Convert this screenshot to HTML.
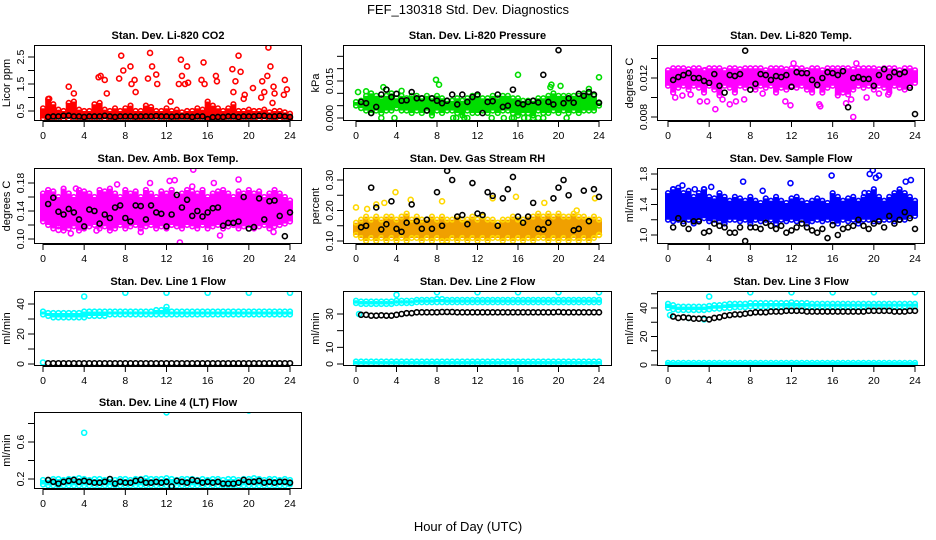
<!DOCTYPE html>
<html><head><meta charset="utf-8">
<style>
body{margin:0;background:#fff;}
svg{display:block;font-family:"Liberation Sans",Arial,sans-serif;}
.t{font-size:11px;font-weight:bold;text-anchor:middle;}
.tk{font-size:10.5px;text-anchor:middle;}
</style></head>
<body>
<svg id="chart" width="936" height="540" viewBox="0 0 936 540">
<text x="468" y="14" text-anchor="middle" font-size="13">FEF_130318  Std. Dev. Diagnostics</text>
<text x="468" y="531" text-anchor="middle" font-size="13">Hour of Day (UTC)</text>
</svg>
<script>
// ---------- data (band envelopes every 0.5 h from 0 to 24; black every 0.5 h from 0.5 to 24) ----------
const xTicks=[0,4,8,12,16,20,24];
// CO2
const co2Hi=[0.6,0.95,0.75,0.55,0.5,0.8,0.85,0.55,0.5,0.5,0.75,0.8,0.55,0.5,0.6,0.5,0.6,0.7,0.5,0.5,0.7,0.65,0.5,0.5,0.6,0.5,0.55,0.45,0.5,0.5,0.6,0.55,0.85,0.7,0.6,0.5,0.6,0.75,0.5,0.5,0.55,0.5,0.5,0.55,0.45,0.5,0.5,0.45,0.4];
const co2Lo=[0.22,0.2,0.22,0.2,0.2,0.21,0.2,0.22,0.2,0.2,0.21,0.2,0.2,0.22,0.2,0.2,0.21,0.2,0.2,0.22,0.2,0.2,0.21,0.2,0.2,0.2,0.22,0.2,0.2,0.21,0.2,0.2,0.15,0.2,0.21,0.2,0.2,0.2,0.22,0.2,0.2,0.21,0.2,0.2,0.2,0.22,0.2,0.2,0.2];
const co2OutX=[0.6,2.5,3,5.4,5.6,6,6.2,7.4,7.6,7.8,8.5,8.6,8.9,9,10.2,10.4,10.6,11,11.1,12.4,13.2,13.4,13.5,13.8,14,14.1,15.4,15.6,15.7,16.8,16.9,18.4,18.5,18.7,19,19.2,19.5,19.6,20.4,21.2,21.3,21.5,21.8,21.9,22.1,22.3,22.4,22.5,23.4,23.5,23.7];
const co2OutY=[0.95,1.4,1.15,1.75,1.8,1.65,1.15,1.7,2.55,2.0,2.15,1.5,1.65,1.2,1.7,2.65,2.15,1.85,1.5,0.85,1.5,2.4,1.8,1.5,2.15,1.55,1.65,2.3,1.5,1.8,1.6,2.05,1.2,1.6,2.55,1.95,0.95,1.1,1.35,1.0,1.6,1.2,1.8,2.85,2.15,0.8,1.4,1.15,1.1,1.65,1.3];
const co2Blk=[0.28,0.3,0.3,0.32,0.33,0.3,0.3,0.28,0.3,0.3,0.3,0.32,0.3,0.28,0.3,0.3,0.3,0.29,0.3,0.3,0.3,0.31,0.3,0.3,0.29,0.3,0.3,0.3,0.28,0.3,0.3,0.2,0.27,0.28,0.28,0.3,0.3,0.28,0.3,0.3,0.3,0.32,0.32,0.3,0.3,0.32,0.3,0.28];
// Pressure
const prHi=[0.0065,0.007,0.009,0.010,0.009,0.008,0.009,0.010,0.008,0.009,0.008,0.009,0.009,0.008,0.009,0.008,0.009,0.008,0.007,0.007,0.008,0.007,0.008,0.009,0.009,0.008,0.008,0.009,0.008,0.009,0.009,0.008,0.008,0.007,0.007,0.007,0.008,0.008,0.009,0.010,0.009,0.009,0.009,0.009,0.009,0.010,0.010,0.009,0.006];
const prLo=[0.005,0.004,0.003,0.002,0.003,0.002,0.003,0.003,0.004,0.003,0.003,0.002,0.003,0.002,0.003,0.001,0.003,0.002,0.003,0.003,0.002,0.001,0.003,0.002,0.002,0.003,0.002,0.003,0.002,0.003,0.003,0.002,0.001,0.002,0.002,0.001,0.003,0.002,0.002,0.003,0.002,0.003,0.002,0.003,0.002,0.003,0.003,0.003,0.005];
const prOutX=[0.2,1,2.5,2.7,3,3.8,4.5,7.9,8.2,9.6,9.9,10.7,11,13.4,14.6,15.4,15.6,16,16.6,17,17.5,18,18.5,19.2,19.3,20.2,20.8,23,24];
const prOutY=[0.0105,0.0108,0.0,0.0125,0.0115,0.0,0.011,0.0155,0.0135,0.0,0.0,0.0,0.0,0.0,0.0,0.0,0.0,0.0175,0.0,0.0,0.0,0.0,0.0,0.0125,0.0135,0.013,0.0,0.0118,0.0165];
const prBlk=[0.0065,0.006,0.002,0.0045,0.0095,0.0115,0.0085,0.0098,0.007,0.0072,0.0105,0.008,0.008,0.003,0.008,0.007,0.006,0.007,0.0095,0.0055,0.0095,0.0065,0.0085,0.0095,0.002,0.0065,0.0068,0.0095,0.0045,0.005,0.0115,0.006,0.0055,0.0065,0.007,0.0063,0.0175,0.0065,0.0055,0.0275,0.006,0.008,0.0062,0.0098,0.009,0.0105,0.0095,0.0062];
// Li-820 temp
const ltHi=[0.0128,0.013,0.013,0.013,0.0129,0.013,0.013,0.0128,0.013,0.013,0.013,0.0128,0.013,0.013,0.0129,0.013,0.013,0.013,0.013,0.0128,0.013,0.013,0.013,0.0129,0.013,0.013,0.013,0.0128,0.013,0.013,0.0128,0.013,0.013,0.013,0.013,0.013,0.0129,0.013,0.013,0.013,0.013,0.0129,0.013,0.013,0.013,0.0128,0.013,0.013,0.0128];
const ltLo=[0.0112,0.0105,0.011,0.0112,0.0108,0.0112,0.011,0.0105,0.0112,0.0108,0.0102,0.0112,0.011,0.0105,0.0112,0.011,0.0112,0.0108,0.0112,0.011,0.0112,0.0105,0.011,0.0108,0.0112,0.011,0.0112,0.0108,0.0105,0.0112,0.0105,0.011,0.0112,0.0102,0.0105,0.0103,0.0108,0.0112,0.011,0.0112,0.0108,0.0112,0.011,0.0105,0.0112,0.011,0.0108,0.0112,0.0115];
const ltOutX=[0.7,1.4,2.2,3.1,3.8,4.6,5.3,6,6.6,7.4,9.2,11.4,11.9,14.8,14.7,17.3,17.8,18,18.3,19.3,20.5,21.4,12.2,3.6];
const ltOutY=[0.0100,0.0102,0.0103,0.0096,0.0096,0.0088,0.0098,0.0093,0.0096,0.0098,0.0104,0.0096,0.0092,0.0091,0.0093,0.0094,0.0098,0.0080,0.0135,0.0100,0.0104,0.0103,0.0135,0.0128];
const ltBlk=[0.0118,0.0121,0.0123,0.0125,0.0120,0.0120,0.0117,0.0115,0.0124,0.0112,0.0105,0.0123,0.0122,0.0124,0.0148,0.0108,0.0114,0.0124,0.0123,0.0118,0.0122,0.0121,0.0123,0.0111,0.0126,0.0125,0.0125,0.0118,0.0113,0.0120,0.0126,0.0125,0.0123,0.0127,0.0090,0.0120,0.0121,0.0119,0.0119,0.0112,0.0123,0.0129,0.0121,0.0126,0.0124,0.0126,0.0110,0.0083];
// Amb box temp
const abHi=[0.165,0.17,0.168,0.16,0.172,0.165,0.16,0.17,0.168,0.165,0.16,0.17,0.168,0.172,0.165,0.16,0.17,0.165,0.168,0.16,0.17,0.165,0.16,0.168,0.165,0.17,0.16,0.165,0.17,0.168,0.165,0.17,0.16,0.165,0.168,0.17,0.165,0.16,0.168,0.165,0.17,0.165,0.168,0.16,0.165,0.17,0.165,0.16,0.155];
const abLo=[0.125,0.12,0.115,0.118,0.112,0.115,0.118,0.112,0.115,0.118,0.12,0.115,0.118,0.112,0.115,0.12,0.115,0.118,0.12,0.115,0.118,0.12,0.115,0.118,0.115,0.12,0.118,0.115,0.12,0.118,0.115,0.12,0.115,0.118,0.12,0.115,0.118,0.12,0.115,0.118,0.12,0.115,0.118,0.12,0.115,0.118,0.12,0.122,0.125];
const abOutX=[0.4,1.5,2.7,3.2,7.2,10.4,12.3,12.8,13.3,14.6,14.5,16.6,17.2,19.0,22.4,23.1,9.5,5.2];
const abOutY=[0.165,0.113,0.108,0.172,0.178,0.18,0.183,0.184,0.095,0.199,0.175,0.18,0.105,0.185,0.11,0.155,0.11,0.112];
const abBlk=[0.150,0.159,0.139,0.135,0.143,0.138,0.128,0.118,0.142,0.140,0.122,0.135,0.130,0.145,0.148,0.130,0.125,0.148,0.147,0.128,0.148,0.138,0.136,0.118,0.135,0.163,0.145,0.156,0.133,0.140,0.132,0.138,0.144,0.145,0.119,0.123,0.123,0.125,0.160,0.115,0.117,0.158,0.128,0.154,0.155,0.133,0.104,0.138];
// Gas stream RH
const rhHi=[0.16,0.17,0.18,0.17,0.18,0.17,0.18,0.18,0.17,0.18,0.19,0.17,0.18,0.17,0.17,0.18,0.17,0.18,0.17,0.17,0.18,0.17,0.17,0.18,0.17,0.18,0.17,0.17,0.16,0.17,0.17,0.18,0.17,0.17,0.18,0.18,0.19,0.18,0.19,0.18,0.19,0.18,0.18,0.19,0.18,0.18,0.17,0.18,0.17];
const rhLo=[0.12,0.11,0.1,0.11,0.1,0.11,0.1,0.11,0.1,0.11,0.1,0.11,0.11,0.1,0.11,0.1,0.11,0.1,0.1,0.11,0.1,0.11,0.1,0.11,0.1,0.11,0.1,0.11,0.11,0.1,0.11,0.1,0.11,0.1,0.11,0.1,0.11,0.11,0.1,0.11,0.1,0.11,0.1,0.11,0.1,0.11,0.1,0.11,0.12];
const rhOutX=[0,1.1,2,2.8,3.9,5.4,8.5,13.5,15.8,18.6,21.8,23.6,24];
const rhOutY=[0.21,0.205,0.22,0.225,0.26,0.235,0.23,0.24,0.245,0.225,0.2,0.24,0.12];
const rhBlk=[0.145,0.15,0.275,0.21,0.138,0.155,0.23,0.14,0.13,0.16,0.22,0.165,0.14,0.17,0.14,0.26,0.15,0.33,0.30,0.18,0.185,0.155,0.29,0.19,0.185,0.26,0.248,0.15,0.24,0.27,0.31,0.18,0.16,0.18,0.225,0.14,0.138,0.16,0.24,0.275,0.30,0.25,0.135,0.14,0.265,0.165,0.27,0.245];
// Sample flow
const sfHi=[1.55,1.6,1.62,1.55,1.58,1.5,1.55,1.6,1.5,1.48,1.55,1.5,1.45,1.5,1.48,1.45,1.5,1.45,1.42,1.48,1.45,1.5,1.45,1.42,1.48,1.5,1.45,1.42,1.45,1.48,1.45,1.42,1.55,1.5,1.45,1.48,1.5,1.45,1.5,1.55,1.6,1.5,1.45,1.5,1.55,1.6,1.55,1.5,1.45];
const sfLo=[1.2,1.18,1.2,1.18,1.2,1.15,1.2,1.22,1.18,1.2,1.18,1.15,1.2,1.2,1.18,1.2,1.15,1.2,1.18,1.2,1.2,1.15,1.2,1.18,1.2,1.18,1.2,1.15,1.18,1.2,1.18,1.2,1.18,1.15,1.2,1.18,1.2,1.15,1.2,1.2,1.18,1.2,1.2,1.2,1.18,1.2,1.2,1.25,1.25];
const sfOutX=[0.5,1.4,2.6,3.5,4.2,7.3,9.2,11.9,15.9,19.1,19.6,19.9,20.2,20.5,23.1,23.6];
const sfOutY=[1.6,1.65,1.6,1.6,1.63,1.7,1.58,1.68,1.78,1.55,1.8,1.85,1.75,1.78,1.7,1.72];
const sfBlk=[1.1,1.22,1.15,1.08,1.18,1.18,1.03,1.05,1.15,1.12,1.1,1.03,1.03,1.1,0.92,1.1,1.1,1.08,1.16,1.12,1.08,1.12,1.03,1.06,1.1,1.15,1.1,1.06,1.03,1.08,0.96,1.13,1.0,1.08,1.1,1.12,1.2,1.12,1.08,1.15,1.18,1.1,1.25,1.15,1.2,1.3,1.22,1.08];
// Line 1 flow
const l1Hi=[35,34,34,34,34,34,34,34,35,35,35,35,35,35,35,35,35,35,35,35,35,35,36,36,36,35,35,35,35,35,35,35,35,35,35,35,35,35,35,35,35,35,35,35,35,35,35,35,35];
const l1Lo=[33,32,31,31,31,31,31,31,31,32,32,32,32,33,33,33,33,33,33,33,33,33,33,33,33,33,33,33,33,33,33,33,33,33,33,33,33,33,33,33,33,33,33,33,33,33,33,33,33];
const l1OutX=[4,8,12,16,20,24,12,0];
const l1OutY=[45,47.5,47.5,47.5,47.5,47.5,38,1];
const l1Blk=[0.5,0.5,0.5,0.5,0.5,0.5,0.5,0.5,0.5,0.5,0.5,0.5,0.5,0.5,0.5,0.5,0.5,0.5,0.5,0.5,0.5,0.5,0.5,0.5,0.5,0.5,0.5,0.5,0.5,0.5,0.5,0.5,0.5,0.5,0.5,0.5,0.5,0.5,0.5,0.5,0.5,0.5,0.5,0.5,0.5,0.5,0.5,0.5];
// Line 2 flow
const l2Hi=[38,37.5,37.5,37.5,37.5,37.5,37.5,37.5,38,38,38,38,38.5,38.5,38.5,38.5,39,39,38.5,38.5,38.5,38.5,38.5,38.5,38.5,38.5,38.5,38.5,38.5,38.5,38.5,38.5,38.5,38.5,38.5,38.5,38.5,38.5,38.5,38.5,38.5,38.5,38.5,38.5,38.5,38.5,38.5,38.5,38.5];
const l2Lo=[36.5,36,36,36,36,36,36,36,36.5,36.5,36.5,36.5,37,37,37,37,37,37,37,37,37,37,37,37,37,37,37,37,37,37,37,37,37,37,37,37,37,37,37,37,37,37,37,37,37,37,37,37,37];
const l2ZHi=[1.5,1.5,1.5,1.5,1.5,1.5,1.5,1.5,1.5,1.5,1.5,1.5,1.5,1.5,1.5,1.5,1.5,1.5,1.5,1.5,1.5,1.5,1.5,1.5,1.5,1.5,1.5,1.5,1.5,1.5,1.5,1.5,1.5,1.5,1.5,1.5,1.5,1.5,1.5,1.5,1.5,1.5,1.5,1.5,1.5,1.5,1.5,1.5,1.5];
const l2ZLo=[0,0,0,0,0,0,0,0,0,0,0,0,0,0,0,0,0,0,0,0,0,0,0,0,0,0,0,0,0,0,0,0,0,0,0,0,0,0,0,0,0,0,0,0,0,0,0,0,0];
const l2OutX=[4,8,12,16,20,24,0.3];
const l2OutY=[41.5,43,43,43,43,43,30];
const l2Blk=[29.5,29.5,29,29,29.2,29,29,29.5,30,30.5,30.5,31,31,31,31,31,31.2,31.2,31.2,31,31,31,31,31,31,31,31,31,31,31,31,31,31,31,31,31,31,31,31,31.2,31,31,31,31,31,31,31,31];
// Line 3 flow
const l3Hi=[43,42,41,41,41,41,41,41,41.5,42,42,42.5,43,43,43,43,43.5,43.5,43.5,43.5,43.5,43.5,43.5,43.5,44,43.5,43.5,43.5,43,43,43,43,43,43,43,43,43,43,43,43,43,43,43,43,43,43,43,43,43];
const l3Lo=[40,39,38.5,38.5,38.5,38.5,38.5,38.5,39,39.5,39.5,40,40,40.5,40.5,40.5,41,41,41,41,41,41,41,41,41,41,41,41,41,41,41,41,41,41,41,41,41,41,41,41,41,41,41,41,41,41,41,41,41];
const l3ZHi=[1.5,1.5,1.5,1.5,1.5,1.5,1.5,1.5,1.5,1.5,1.5,1.5,1.5,1.5,1.5,1.5,1.5,1.5,1.5,1.5,1.5,1.5,1.5,1.5,1.5,1.5,1.5,1.5,1.5,1.5,1.5,1.5,1.5,1.5,1.5,1.5,1.5,1.5,1.5,1.5,1.5,1.5,1.5,1.5,1.5,1.5,1.5,1.5,1.5];
const l3ZLo=[0,0,0,0,0,0,0,0,0,0,0,0,0,0,0,0,0,0,0,0,0,0,0,0,0,0,0,0,0,0,0,0,0,0,0,0,0,0,0,0,0,0,0,0,0,0,0,0,0];
const l3OutX=[4,8,12,16,20,24,0.2,2,3.5];
const l3OutY=[48,51,51,51,51,51,35,33,32];
const l3Blk=[34,33,33.5,33,32.5,32.5,32.5,32,33,33.5,34.5,35,35.5,35.5,36,36.5,37,37,37,37.5,37.5,37.5,38,38,38,38,37.5,37.5,37.5,37.5,37.5,37.5,37.5,37.5,37.5,37.5,37.5,37.5,38,38,38,38,38,37.5,37.5,37.5,38,38];
// Line 4 flow
const l4Hi=[0.19,0.19,0.2,0.2,0.19,0.2,0.2,0.21,0.2,0.19,0.2,0.2,0.19,0.2,0.19,0.2,0.2,0.19,0.2,0.2,0.21,0.2,0.2,0.2,0.21,0.2,0.19,0.2,0.2,0.2,0.19,0.2,0.19,0.2,0.2,0.19,0.2,0.2,0.19,0.2,0.2,0.21,0.2,0.19,0.2,0.2,0.19,0.2,0.19];
const l4Lo=[0.14,0.13,0.13,0.13,0.13,0.13,0.13,0.13,0.13,0.13,0.13,0.13,0.13,0.13,0.13,0.13,0.13,0.13,0.13,0.13,0.13,0.13,0.13,0.13,0.13,0.13,0.13,0.13,0.13,0.13,0.13,0.13,0.13,0.13,0.13,0.13,0.13,0.13,0.13,0.13,0.13,0.13,0.13,0.13,0.13,0.13,0.13,0.13,0.14];
const l4OutX=[4,12,20];
const l4OutY=[0.70,0.92,0.94];
const l4Blk=[0.19,0.17,0.15,0.17,0.18,0.19,0.17,0.18,0.17,0.16,0.16,0.17,0.2,0.15,0.17,0.16,0.16,0.18,0.19,0.16,0.16,0.17,0.16,0.17,0.12,0.18,0.17,0.16,0.19,0.18,0.16,0.17,0.16,0.17,0.15,0.15,0.15,0.16,0.19,0.17,0.17,0.18,0.16,0.17,0.16,0.17,0.17,0.16];

// ---------- layout ----------
const NS='http://www.w3.org/2000/svg';
const svg=document.getElementById('chart');
function mk(tag,attrs,parent){const e=document.createElementNS(NS,tag);for(const k in attrs)e.setAttribute(k,attrs[k]);(parent||svg).appendChild(e);return e;}
const cols=[{L:34,R:302,x0:43,x24:290},{L:343,R:612,x0:356,x24:599},{L:657,R:925,x0:668,x24:915}];
const rows=[{T:45,B:121},{T:168,B:244},{T:291,B:366},{T:412,B:489}];
const panels=[
 {id:'co2',title:'Stan. Dev. Li-820 CO2',yl:'Licor ppm',c:0,r:0,v0:0.5,p0:111,v1:2.5,p1:57,ticks:[0.5,1,1.5,2,2.5],labs:[0.5,1.5,2.5],col:'#ff0000',hi:co2Hi,lo:co2Lo,ox:co2OutX,oy:co2OutY,blk:co2Blk},
 {id:'pressure',title:'Stan. Dev. Li-820 Pressure',yl:'kPa',c:1,r:0,v0:0,p0:118,v1:0.015,p1:81,ticks:[0,0.005,0.01,0.015,0.02,0.025],labs:[0,0.015],fmt:3,col:'#00dd00',hi:prHi,lo:prLo,ox:prOutX,oy:prOutY,blk:prBlk},
 {id:'li820-temp',title:'Stan. Dev. Li-820 Temp.',yl:'degrees C',c:2,r:0,v0:0.008,p0:117,v1:0.012,p1:78,ticks:[0.008,0.010,0.012,0.014],labs:[0.008,0.012],fmt:3,col:'#ff00ff',hi:ltHi,lo:ltLo,ox:ltOutX,oy:ltOutY,blk:ltBlk},
 {id:'amb-box-temp',title:'Stan. Dev. Amb. Box Temp.',yl:'degrees C',c:0,r:1,v0:0.10,p0:239,v1:0.18,p1:183,ticks:[0.10,0.12,0.14,0.16,0.18],labs:[0.10,0.14,0.18],fmt:2,col:'#ff00ff',hi:abHi,lo:abLo,ox:abOutX,oy:abOutY,blk:abBlk},
 {id:'gas-stream-rh',title:'Stan. Dev. Gas Stream RH',yl:'percent',c:1,r:1,v0:0.10,p0:241,v1:0.30,p1:180,ticks:[0.10,0.15,0.20,0.25,0.30],labs:[0.10,0.20,0.30],fmt:2,col:'#f0a000',pc:'#ffd800',hi:rhHi,lo:rhLo,ox:rhOutX,oy:rhOutY,blk:rhBlk},
 {id:'sample-flow',title:'Stan. Dev. Sample Flow',yl:'ml/min',c:2,r:1,v0:1.0,p0:235,v1:1.8,p1:174,ticks:[1.0,1.2,1.4,1.6,1.8],labs:[1.0,1.4,1.8],fmt:1,col:'#0000ff',hi:sfHi,lo:sfLo,ox:sfOutX,oy:sfOutY,blk:sfBlk},
 {id:'line1-flow',title:'Stan. Dev. Line 1 Flow',yl:'ml/min',c:0,r:2,v0:0,p0:364,v1:40,p1:304,ticks:[0,10,20,30,40],labs:[0,20,40],col:'#00ffff',hi:l1Hi,lo:l1Lo,ox:l1OutX,oy:l1OutY,blk:l1Blk},
 {id:'line2-flow',title:'Stan. Dev. Line 2 Flow',yl:'ml/min',c:1,r:2,v0:0,p0:364,v1:30,p1:314,ticks:[0,10,20,30],labs:[0,10,30],col:'#00ffff',hi:l2Hi,lo:l2Lo,hi2:l2ZHi,lo2:l2ZLo,ox:l2OutX,oy:l2OutY,blk:l2Blk},
 {id:'line3-flow',title:'Stan. Dev. Line 3 Flow',yl:'ml/min',c:2,r:2,v0:0,p0:365,v1:40,p1:308,ticks:[0,10,20,30,40,50],labs:[0,20,40],col:'#00ffff',hi:l3Hi,lo:l3Lo,hi2:l3ZHi,lo2:l3ZLo,ox:l3OutX,oy:l3OutY,blk:l3Blk},
 {id:'line4-flow',title:'Stan. Dev. Line 4 (LT) Flow',yl:'ml/min',c:0,r:3,v0:0.2,p0:479,v1:0.6,p1:442,ticks:[0.2,0.4,0.6,0.8],labs:[0.2,0.6],fmt:1,col:'#00ffff',hi:l4Hi,lo:l4Lo,ox:l4OutX,oy:l4OutY,blk:l4Blk}
];

panels.forEach(p=>{
  const C=cols[p.c],R=rows[p.r];
  const xs=h=>C.x0+(C.x24-C.x0)*h/24;
  const ys=v=>p.p0+(p.p1-p.p0)*(v-p.v0)/(p.v1-p.v0);
  const g=mk('g',{});
  
  
  const clip=mk('clipPath',{id:'cl-'+p.id},g);
  mk('rect',{x:C.L,y:R.T,width:C.R-C.L,height:R.B-R.T},clip);
  const marks=mk('g',{'clip-path':'url(#cl-'+p.id+')'},g);
  const pc=p.pc||p.col;
  function band(hi,lo,name){
    hi.forEach((v,i)=>{
      const x=xs(i*0.5);
      const ln=mk('line',{x1:x,x2:x,y1:ys(v),y2:ys(lo[i]),stroke:p.col,'stroke-width':6},marks);
      
      
      [v,lo[i]].forEach(val=>{
        const c=mk('circle',{cx:x,cy:ys(val),r:2.3,fill:'none',stroke:pc,'stroke-width':1.6},marks);
        
        
      });
    });
  }
  band(p.hi,p.lo,p.id+'-band');
  if(p.hi2)band(p.hi2,p.lo2,p.id+'-zero-band');
  p.ox.forEach((h,i)=>{
    const c=mk('circle',{cx:xs(h),cy:ys(p.oy[i]),r:2.5,fill:'none',stroke:pc,'stroke-width':1.6},marks);
    
    
  });
  p.blk.forEach((v,i)=>{
    const c=mk('circle',{cx:xs((i+1)*0.5),cy:ys(v),r:2.5,fill:'none',stroke:'#000','stroke-width':1.6},marks);
    
    
  });
  const bx=mk('rect',{x:C.L+0.5,y:R.T+0.5,width:C.R-C.L-1,height:R.B-R.T-1,fill:'none',stroke:'#000','stroke-width':1},g);
  
  
  const t=mk('text',{x:(C.L+C.R)/2,y:R.T-6,class:'t'},g);t.textContent=p.title;
  
  
  const xa=mk('g',{},g);
  
  
  mk('line',{x1:C.x0,x2:C.x24,y1:R.B+0.5,y2:R.B+0.5,stroke:'#000'},xa);
  xTicks.forEach(h=>{
    mk('line',{x1:xs(h),x2:xs(h),y1:R.B,y2:R.B+6,stroke:'#000'},xa);
    const tl=mk('text',{x:xs(h),y:R.B+18,class:'tk'},xa);tl.textContent=h;
  });
  const ya=mk('g',{},g);
  
  
  mk('line',{x1:C.L+0.5,x2:C.L+0.5,y1:ys(p.ticks[0]),y2:ys(p.ticks[p.ticks.length-1]),stroke:'#000'},ya);
  p.ticks.forEach(v=>{const y=ys(v);if(y<R.T-1||y>R.B+1)return;mk('line',{x1:C.L-6,x2:C.L,y1:y,y2:y,stroke:'#000'},ya);});
  p.labs.forEach(v=>{
    const y=ys(v),x=C.L-10;
    const tl=mk('text',{x:x,y:y,class:'tk',transform:'rotate(-90 '+x+' '+y+')'},ya);
    tl.textContent=p.fmt!==undefined?v.toFixed(p.fmt):String(v);
  });
  const yt=mk('text',{x:C.L-24,y:(R.T+R.B)/2,'font-size':'11','text-anchor':'middle',transform:'rotate(-90 '+(C.L-24)+' '+((R.T+R.B)/2)+')'},g);
  yt.textContent=p.yl;
  
  
});
</script>
</body></html>
